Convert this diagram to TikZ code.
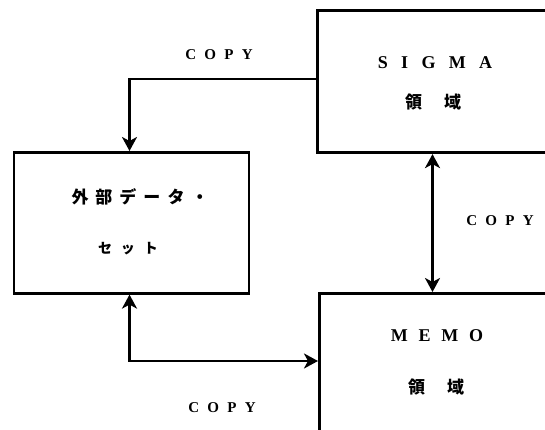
\documentclass[tikz,border=0pt]{standalone}
\usepackage{fontspec}
\setmainfont{Liberation Serif}
\newfontfamily\jpfont{Noto Sans CJK JP}
\usetikzlibrary{arrows.meta}
\newcommand\gapC{\hspace{0.55em}}
\newcommand\gapS{\hspace{0.74em}}
\newcommand\gapM{\hspace{0.6em}}
\newcommand\gapJ{\hspace{7pt}}
\newcommand\gapK{\hspace{9pt}}
\tikzset{tipx/.tip={Stealth[length=14pt,width=15pt,inset=4pt]}}
\begin{document}
\begin{tikzpicture}[x=1pt,y=-1pt,
  box/.style={draw, line width=2.6pt, rectangle, inner sep=0pt, anchor=north west},
  link/.style={line width=2.6pt},
  lab/.style={inner sep=0pt, font=\bfseries\fontsize{15}{17}\selectfont},
  big/.style={inner sep=0pt, font=\bfseries\fontsize{18}{20}\selectfont},
  jp/.style={inner sep=0pt, font=\jpfont\bfseries\fontsize{17}{19}\selectfont},
  jps/.style={inner sep=0pt, font=\jpfont\bfseries\fontsize{14}{16}\selectfont}]
\useasboundingbox (0,0) rectangle (545,430);
\clip (0,0) rectangle (545,430);
% boxes
\node[box, minimum width=250pt, minimum height=142pt] (sigma) at (316,9.5) {};
\node[box, minimum width=235pt, minimum height=141pt] (ext) at (12.5,151) {};
\node[box, minimum width=250pt, minimum height=160pt] (memo) at (318,292) {};
% texts
\node[big] (s1) at (435,63) {S\gapS I\gapS G\gapS M\gapS A};
\node[jp] (s2) at (433,102) {領\hspace{22pt}域};
\node[big] (m1) at (437,336) {M\gapM E\gapM M\gapM O};
\node[jp] (m2) at (436,387) {領\hspace{22pt}域};
\node[jp] (e1) at (140,197) {外\gapJ 部\gapJ デ\gapJ ー\gapJ タ\gapJ ・};
\node[jps] (e2) at (128,249) {セ\gapK ッ\gapK ト};
\node[lab] (c1) at (219,55) {C\gapC O\gapC P\gapC Y};
\node[lab] (c2) at (500,221) {C\gapC O\gapC P\gapC Y};
\node[lab] (c3) at (222,408) {C\gapC O\gapC P\gapC Y};
% connectors
\coordinate (topy) at (0,79);
\coordinate (lx) at (129.5,0);
\coordinate (vx) at (432.5,0);
\coordinate (boty) at (0,361);
\draw[link, -tipx] (sigma.west |- topy) -| (ext.north -| lx);
\draw[link, tipx-tipx] (sigma.south -| vx) -- (memo.north -| vx);
\draw[link, tipx-tipx] (ext.south -| lx) |- (memo.west |- boty);
\end{tikzpicture}
\end{document}
